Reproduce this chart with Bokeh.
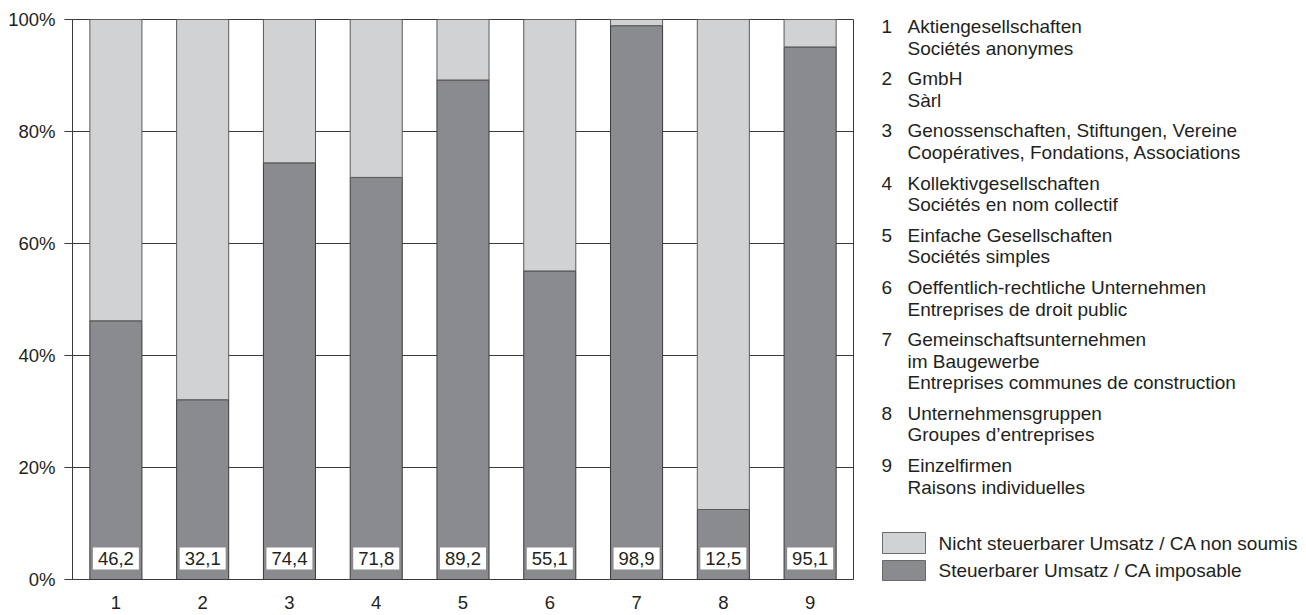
from bokeh.plotting import figure
from bokeh.layouts import row
from bokeh.models import ColumnDataSource, FixedTicker, Range1d, PrintfTickFormatter
from bokeh.core.properties import value
from bokeh.embed import file_html
from bokeh.resources import INLINE

# ---------------- data ----------------
categories = [1, 2, 3, 4, 5, 6, 7, 8, 9]
taxable = [46.2, 32.1, 74.4, 71.8, 89.2, 55.1, 98.9, 12.5, 95.1]
non_taxable = [round(100 - v, 1) for v in taxable]
value_labels = ["46,2", "32,1", "74,4", "71,8", "89,2", "55,1", "98,9", "12,5", "95,1"]
y_ticks = [0, 20, 40, 60, 80, 100]
category_names = [
    ["Aktiengesellschaften", "Sociétés anonymes"],
    ["GmbH", "Sàrl"],
    ["Genossenschaften, Stiftungen, Vereine", "Coopératives, Fondations, Associations"],
    ["Kollektivgesellschaften", "Sociétés en nom collectif"],
    ["Einfache Gesellschaften", "Sociétés simples"],
    ["Oeffentlich-rechtliche Unternehmen", "Entreprises de droit public"],
    ["Gemeinschaftsunternehmen", "im Baugewerbe", "Entreprises communes de construction"],
    ["Unternehmensgruppen", "Groupes d’entreprises"],
    ["Einzelfirmen", "Raisons individuelles"],
]
series_names = ["Nicht steuerbarer Umsatz / CA non soumis", "Steuerbarer Umsatz / CA imposable"]

# ---------------- style ----------------
FONT = "Liberation Sans"
FS = "18.5px"
LFS = "19px"
TXT = "#231f20"
LINE = "#3a3a3a"
LIGHT = "#d1d2d4"
DARK = "#8a8b8f"

H = 615
MW = 861
p = figure(width=MW, height=H, x_range=Range1d(0.5, 9.5), y_range=Range1d(0, 100),
           toolbar_location=None, output_backend="svg",
           min_border_left=72, min_border_right=8, min_border_top=19, min_border_bottom=36)
p.background_fill_color = "white"
p.border_fill_color = "white"
p.outline_line_color = LINE
p.outline_line_width = 1

src = ColumnDataSource(dict(x=categories, tax=taxable, non=non_taxable,
                            lab=value_labels,
                            top100=[100] * len(categories),
                            lb=[1.8] * len(categories), lt=[5.7] * len(categories),
                            ly=[3.75] * len(categories)))

p.vbar(x="x", bottom=0, top="tax", width=0.6, source=src,
       fill_color=DARK, line_color=LINE, line_width=1)
p.vbar(x="x", bottom="tax", top="top100", width=0.6, source=src,
       fill_color=LIGHT, line_color="#5a5a5a", line_width=1)
p.vbar(x="x", bottom="lb", top="lt", width=0.53, source=src,
       fill_color="white", line_color=None)
p.text(x="x", y="ly", text="lab", source=src, text_align="center", text_baseline="middle",
       text_font=value(FONT), text_font_size=FS, text_color=TXT)

p.xgrid.visible = False
p.ygrid.ticker = FixedTicker(ticks=y_ticks)
p.ygrid.grid_line_color = LINE
p.ygrid.grid_line_width = 1

ya = p.yaxis[0]
ya.ticker = FixedTicker(ticks=y_ticks)
ya.formatter = PrintfTickFormatter(format="%d%%")
ya.major_tick_out = 8
ya.major_tick_in = 0
ya.minor_tick_out = 0
ya.minor_tick_in = 0
ya.axis_line_color = LINE
ya.major_tick_line_color = LINE
ya.major_label_standoff = 9
ya.major_label_text_font = FONT
ya.major_label_text_font_size = FS
ya.major_label_text_color = TXT

xa = p.xaxis[0]
xa.ticker = FixedTicker(ticks=categories)
xa.major_tick_out = 0
xa.major_tick_in = 0
xa.minor_tick_out = 0
xa.minor_tick_in = 0
xa.axis_line_color = LINE
xa.major_label_standoff = 16
xa.major_label_text_font = FONT
xa.major_label_text_font_size = FS
xa.major_label_text_color = TXT

# ---------------- legend panel ----------------
LW = 1306 - MW
try:
    q = figure(width=LW, height=H, x_range=Range1d(0, LW), y_range=Range1d(H, 0),
               toolbar_location=None, output_backend="svg", min_border=0,
               x_axis_location=None, y_axis_location=None, title=None,
               frame_align=False)
except Exception:
    # frames aligned with the bar chart (19..579 px)
    q = figure(width=LW, height=H, x_range=Range1d(0, LW), y_range=Range1d(579, 19),
               toolbar_location=None, output_backend="svg", min_border=0,
               x_axis_location=None, y_axis_location=None, title=None)
q.grid.visible = False
q.outline_line_color = None
q.background_fill_color = "white"
q.border_fill_color = "white"

num_x, num_y, num_t = [], [], []
lx, ly, lt = [], [], []
y = 26.0
LH = 21.5
GAP = 9.2
for i, lines in enumerate(category_names):
    num_x.append(20)
    num_y.append(y)
    num_t.append(str(categories[i]))
    for j, line in enumerate(lines):
        lx.append(46)
        ly.append(y + j * LH)
        lt.append(line)
    y += len(lines) * LH + GAP

q.text(x=num_x, y=num_y, text=num_t, text_align="left", text_baseline="middle",
       text_font=value(FONT), text_font_size=LFS, text_color=TXT)
q.text(x=lx, y=ly, text=lt, text_align="left", text_baseline="middle",
       text_font=value(FONT), text_font_size=LFS, text_color=TXT)

sw_top = [532, 560]
sw_bot = [553, 580]
sw_col = [LIGHT, DARK]
q.quad(left=[21, 21], right=[64, 64], top=sw_top, bottom=sw_bot,
       fill_color=sw_col, line_color="#6a6a6a", line_width=1)
q.text(x=[77, 77], y=[(a + b) / 2 for a, b in zip(sw_top, sw_bot)], text=series_names,
       text_align="left", text_baseline="middle",
       text_font=value(FONT), text_font_size=LFS, text_color=TXT)

layout = row(p, q)
open("out.html", "w").write(file_html(layout, INLINE))
